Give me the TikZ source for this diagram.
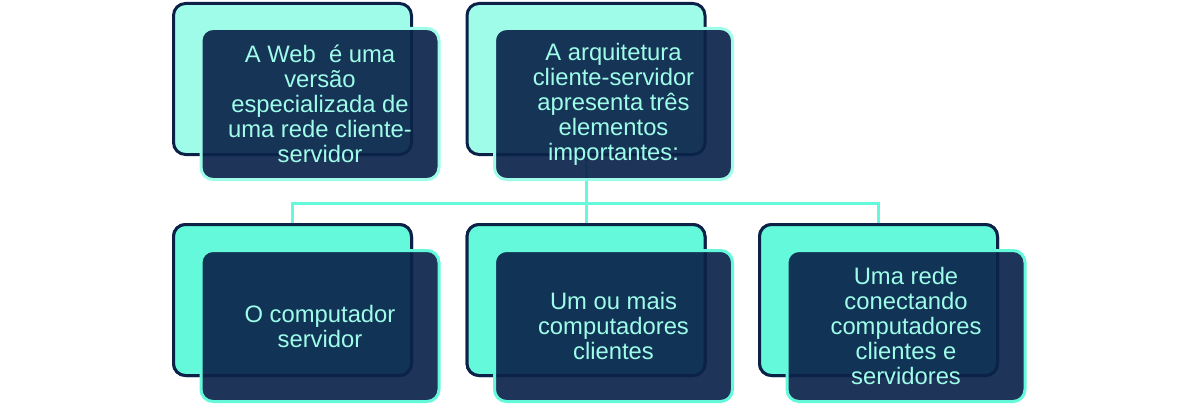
\documentclass[tikz,border=0pt]{standalone}
\usepackage{fontspec}
\setmainfont{Liberation Sans}
\definecolor{navy}{RGB}{12,33,72}
\definecolor{mintL}{RGB}{159,252,233}
\definecolor{mint}{RGB}{100,249,218}
\definecolor{deep}{RGB}{11,35,74}
\begin{document}
\begin{tikzpicture}[x=1pt,y=-1pt,
 backbox/.style={draw=navy, fill=#1, line width=3pt, rounded corners=12pt, minimum width=238pt, minimum height=151pt, inner sep=0pt},
 frontbox/.style={draw=#1, line width=3pt, fill=deep, fill opacity=0.92, text opacity=1, rounded corners=12pt, minimum width=238pt, minimum height=151pt, inner sep=0pt, text=mintL, font=\fontsize{23.8}{25}\selectfont, align=center},
 link/.style={draw=mint, line width=3pt}]
\useasboundingbox (0,0) rectangle (1198,404);
% back boxes
\node[backbox=mintL] (tlb) at (292.5,79) {};
\node[backbox=mintL] (tmb) at (586,79) {};
\node[backbox=mint] (blb) at (292.5,300) {};
\node[backbox=mint] (bmb) at (586,300) {};
\node[backbox=mint] (brb) at (878.5,300) {};
% connectors
\coordinate (hub) at (586,203);
\draw[link] (tmb.south) -- (hub);
\draw[link] (hub) -| (blb.north);
\draw[link] (hub) -- (bmb.north);
\draw[link] (hub) -| (brb.north);
% redraw back box borders over connector ends
\node[backbox=mint] at (292.5,300) {};
\node[backbox=mint] at (586,300) {};
\node[backbox=mint] at (878.5,300) {};
% front boxes
\node[frontbox=mintL] (tlf) at (320,104) {A Web\ \ é uma\\versão\\especializada de\\uma rede cliente-\\servidor};
\node[frontbox=mintL] (tmf) at (613.5,104) {A arquitetura\\cliente-servidor\\apresenta três\\elementos\\importantes:};
\node[frontbox=mint] (blf) at (320,326) {O computador\\servidor};
\node[frontbox=mint] (bmf) at (613.5,326) {Um ou mais\\computadores\\clientes};
\node[frontbox=mint] (brf) at (906,326) {Uma rede\\conectando\\computadores\\clientes e\\servidores};
\end{tikzpicture}
\end{document}
